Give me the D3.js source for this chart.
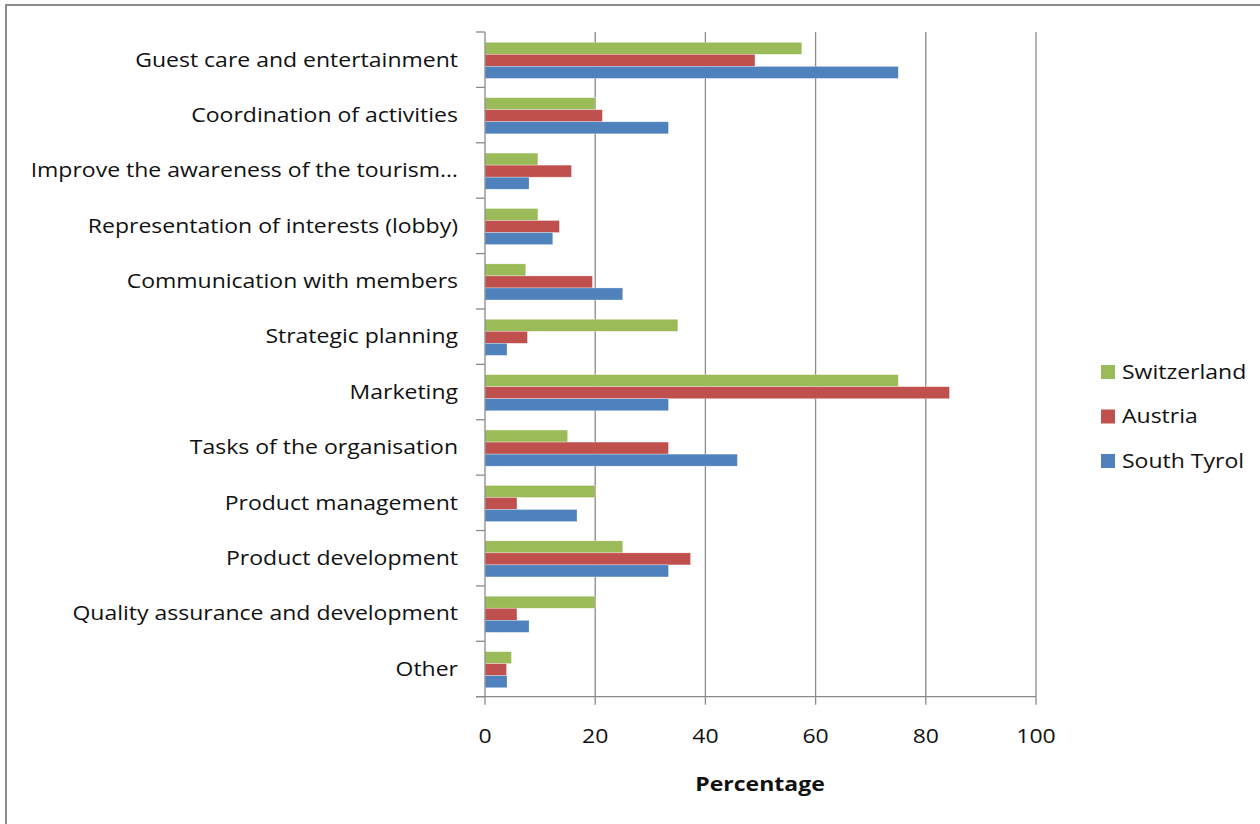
<!DOCTYPE html>
<html><head><meta charset="utf-8">
<script src="https://cdn.jsdelivr.net/npm/d3@7"></script>
<style>body{margin:0;background:#fff;}svg{display:block;}</style>
</head><body>
<script>
const categories = ["Guest care and entertainment","Coordination of activities","Improve the awareness of the tourism…","Representation of interests (lobby)","Communication with members","Strategic planning","Marketing","Tasks of the organisation","Product management","Product development","Quality assurance and development","Other"];
const seriesNames = ["Switzerland","Austria","South Tyrol"];
const switzerland = [57.5,20,9.6,9.6,7.4,35,75,15,20,25,20,4.8];
const austria = [49,21.3,15.7,13.5,19.5,7.7,84.3,33.3,5.8,37.3,5.8,3.9];
const southTyrol = [75,33.3,8,12.3,25,4,33.3,45.8,16.7,33.3,8,4];
const xTicks = [0,20,40,60,80,100];
const colors = ["#9BBB59","#C0504D","#4F81BD"];
const seriesValues = [switzerland, austria, southTyrol];

const W=1260,H=824;
const SX=1.18;
const svg=d3.select("body").append("svg").attr("width",W).attr("height",H);
svg.append("rect").attr("x",6).attr("y",5).attr("width",W+20).attr("height",H+20)
  .attr("fill","#fff").attr("stroke","#8c8c8c").attr("stroke-width",2);

const font="'Open Sans', sans-serif";
const x=d3.scaleLinear().domain([0,100]).range([485,1036]);
const y0=d3.scaleBand().domain(categories).range([32,696.7]).padding(0);
const bw=y0.bandwidth();
const y1=d3.scaleBand().domain(seriesNames).range([0.186*bw,0.838*bw]).padding(0);

function txt(sel,tx,ty){ return sel.attr("transform",(d,i)=>`translate(${tx(d,i)},${ty(d,i)}) scale(${SX},1)`); }

// gridlines
svg.append("g").selectAll("line").data(xTicks.filter(d=>d>0)).join("line")
  .attr("x1",d=>x(d)).attr("x2",d=>x(d)).attr("y1",32).attr("y2",696.7)
  .attr("stroke","#8a8a8a").attr("stroke-width",1.3);

// bars
const g=svg.append("g");
seriesNames.forEach((s,si)=>{
  g.append("g").selectAll("rect").data(categories).join("rect")
    .attr("x",x(0)).attr("y",(c)=>y0(c)+y1(s))
    .attr("width",(c,i)=>x(seriesValues[si][i])-x(0))
    .attr("height",y1.bandwidth())
    .attr("fill",colors[si]).attr("stroke","rgba(255,255,255,0.5)").attr("stroke-width",0.6);
});

// y axis
const ya=svg.append("g").attr("transform","translate(485,0)");
ya.append("line").attr("x1",0).attr("x2",0).attr("y1",32).attr("y2",696.7).attr("stroke","#8a8a8a").attr("stroke-width",1.3);
const tickYs=categories.map(c=>y0(c)).concat([696.7]);
ya.selectAll("line.t").data(tickYs).join("line").attr("class","t")
  .attr("x1",-9).attr("x2",0).attr("y1",d=>d).attr("y2",d=>d).attr("stroke","#8a8a8a").attr("stroke-width",1.3);
txt(ya.selectAll("text").data(categories).join("text"),()=>-27,c=>y0(c)+bw/2)
  .attr("dy","0.35em")
  .attr("text-anchor","end").attr("font-family",font).attr("font-size",19.5).attr("fill","#111")
  .text(c=>c);

// x axis
const xa=svg.append("g").attr("transform","translate(0,696.7)");
xa.append("line").attr("x1",476).attr("x2",1036).attr("y1",0).attr("y2",0).attr("stroke","#8a8a8a").attr("stroke-width",1.3);
xa.selectAll("line.t").data(xTicks).join("line").attr("class","t")
  .attr("x1",d=>x(d)).attr("x2",d=>x(d)).attr("y1",0).attr("y2",8).attr("stroke","#8a8a8a").attr("stroke-width",1.3);
txt(xa.selectAll("text").data(xTicks).join("text"),d=>x(d),()=>39)
  .attr("dy","0.35em").attr("text-anchor","middle")
  .attr("font-family",font).attr("font-size",19.5).attr("fill","#111").text(d=>d);

txt(svg.append("text").datum("Percentage"),()=>760,()=>784).attr("dy","0.35em").attr("text-anchor","middle")
  .attr("font-family",font).attr("font-size",19.5).attr("font-weight","bold").attr("fill","#111").text(d=>d);

// legend
const lg=svg.append("g");
seriesNames.forEach((s,i)=>{
  const cy=372+i*44.5;
  lg.append("rect").attr("x",1101).attr("y",cy-7).attr("width",14).attr("height",14).attr("fill",colors[i]);
  txt(lg.append("text").datum(s),()=>1122,()=>cy).attr("dy","0.35em").attr("font-family",font)
    .attr("font-size",19.5).attr("fill","#111").text(d=>d);
});
</script>
</body></html>
